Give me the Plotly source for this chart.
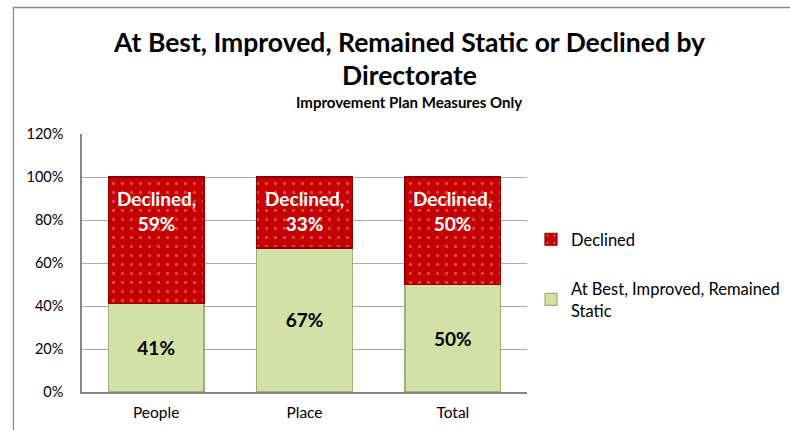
import plotly.graph_objects as go

categories = ["People", "Place", "Total"]
improved = [0.41, 0.67, 0.50]
declined = [0.59, 0.33, 0.50]
improved_name = "At Best, Improved, Remained<br>Static"
declined_name = "Declined"
title_line1 = "At Best, Improved, Remained Static or Declined by"
title_line2 = "Directorate"
subtitle = "Improvement Plan Measures Only"

FONT = "Lato"
W, H = 790, 430
L, R, T, B = 82, 263, 134, 38
pw, ph = W - L - R, H - T - B

def px_x(x):
    return (x - L) / pw

def px_y(y):
    return (H - B - y) / ph

fig = go.Figure()
fig.add_trace(go.Bar(
    x=categories, y=improved, name=improved_name, legendgroup="a", legendrank=2,
    marker=dict(color="#D2E1A6", line=dict(color="#9FAF78", width=1.2)),
    text=[f"{v:.0%}" for v in improved], textposition="inside",
    insidetextanchor="middle", textangle=0,
    textfont=dict(family=FONT, size=19, color="black", weight="bold"),
    hoverinfo="skip",
))
fig.add_trace(go.Bar(
    x=categories, y=declined, name=declined_name, legendgroup="b", legendrank=1,
    marker=dict(color="#C60000", line=dict(color="#8E0000", width=1.2),
                pattern=dict(shape=".", fgcolor="rgba(255,255,255,0.55)",
                             bgcolor="#C60000", size=9, solidity=0.12)),
    hoverinfo="skip",
))

# Declined labels, anchored at top of stacked bar
for c, a, d in zip(categories, improved, declined):
    fig.add_annotation(
        x=c, y=a + d, xref="x", yref="y", yanchor="top", yshift=-8,
        text=f"Declined,<br>{d:.0%}", showarrow=False,
        font=dict(family=FONT, size=19, color="white", weight="bold"),
    )

# titles
for txt, yy, sz in [(title_line1, 42, 26.5), (title_line2, 75, 26.5), (subtitle, 102, 15)]:
    fig.add_annotation(x=px_x(409), y=px_y(yy), xref="paper", yref="paper",
                       xanchor="center", yanchor="middle",
                       text=f"<b>{txt}</b>", showarrow=False,
                       font=dict(family=FONT, size=sz, color="black"))

# chart border
fig.add_shape(type="rect", xref="paper", yref="paper",
              x0=px_x(13.5), x1=px_x(W + 40), y0=px_y(H + 40), y1=px_y(7.5),
              line=dict(color="#8C8C8C", width=1.3), fillcolor="rgba(0,0,0,0)",
              layer="below")

fig.update_layout(
    width=W, height=H,
    margin=dict(l=L, r=R, t=T, b=B, autoexpand=False),
    barmode="stack", bargap=0.355,
    paper_bgcolor="white", plot_bgcolor="white",
    font=dict(family=FONT, size=14, color="black"),
    showlegend=True,
    legend=dict(x=px_x(531), y=px_y(222), xanchor="left", yanchor="top",
                traceorder="grouped", tracegroupgap=25,
                font=dict(family=FONT, size=16.5, color="black"),
                itemwidth=30, bgcolor="rgba(0,0,0,0)"),
    xaxis=dict(showline=True, linecolor="#868686", linewidth=1.5,
               showgrid=False, ticks="", ticklabelstandoff=6,
               tickfont=dict(size=15.5)),
    yaxis=dict(range=[0, 1.2], dtick=0.2, tickformat=".0%",
               showline=True, linecolor="#868686", linewidth=1.5,
               showgrid=True, gridcolor="#ABABAB", gridwidth=1.2,
               ticks="", ticklabelstandoff=14, zeroline=False,
               tickfont=dict(size=14.5)),
)

fig.write_html("out.html", config={"displayModeBar": False},
               post_script="document.body.style.margin='0px';document.body.style.overflow='hidden';")
